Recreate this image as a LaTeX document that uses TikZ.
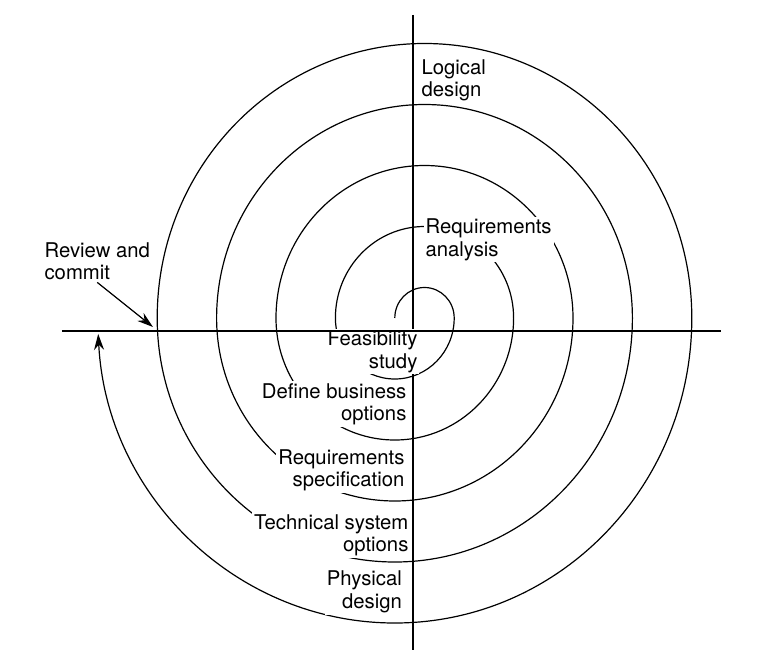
\documentclass[tikz,border=0pt]{standalone}
\usepackage{fontspec}
\setmainfont{TeX Gyre Heros}
\usetikzlibrary{arrows.meta}

\begin{document}
\begin{tikzpicture}[x=0.5pt, y=0.5pt, line width=0.6pt,
    lbl/.style={fill=white, inner sep=1pt, font=\fontsize{10.15}{11.25}\selectfont},
    tip/.style={-{Stealth[length=8pt, width=5pt]}}]
    %% origin at the crossing of the axes, 1 unit = 1 px of the drawing
    %% spiral: upper halves centred at (11.5,13), lower halves at (-18.2,13)
    %% half-turn step: 29.7 across, 30.5 up
    %% labels are placed by the baseline of their last line
    \useasboundingbox (-413,-333) rectangle (346,331);

    % ---- VERTICAL AXIS ----
    \draw (0,316) -- (0,-319);

    % ---- SPIRAL ----
    \draw[tip] (-18.2,13)
      foreach \i in {1,...,4} {
        arc[start angle=180, end angle=0, x radius={(2*\i-1)*29.7}, y radius={(2*\i-1)*30.5}]
        arc[start angle=0, end angle=-180, x radius={2*\i*29.7}, y radius={2*\i*30.5}]
      }
      arc[start angle=180, end angle=0, x radius=267.3, y radius=274.5]
      arc[start angle=0, end angle=-177, x radius=297, y radius=305];

    % ---- LABELS ----
    \node[lbl, align=left, anchor=base west] (logical) at (6,234.3) {Logical\\design};
    \node[lbl, align=left, anchor=base west] (reqanalysis) at (10,75) {Requirements\\analysis};
    \node[lbl, align=right, anchor=base east] (feasibility) at (7,-37) {Feasibility\\study};
    \node[lbl, align=right, anchor=base east] (busoptions) at (-4,-89.7) {Define business\\options};
    \node[lbl, align=right, anchor=base east] (reqspec) at (-6,-155.7) {Requirements\\specification};
    \node[lbl, align=right, anchor=base east] (techoptions) at (-2,-220.7) {Technical system\\options};
    \node[lbl, align=right, anchor=base east] (physical) at (-8.5,-277.3) {Physical\\design};
    \node[lbl, align=left, anchor=base west] (review) at (-371,51.5) {Review and\\commit};

    % ---- HORIZONTAL AXIS ----
    \draw (-351,0) -- (307.7,0);

    % ---- REVIEW ARROW ----
    \coordinate (rvtip) at (-260,4);
    \draw[tip] (review.south) -- (rvtip);

  \end{tikzpicture}
\end{document}
